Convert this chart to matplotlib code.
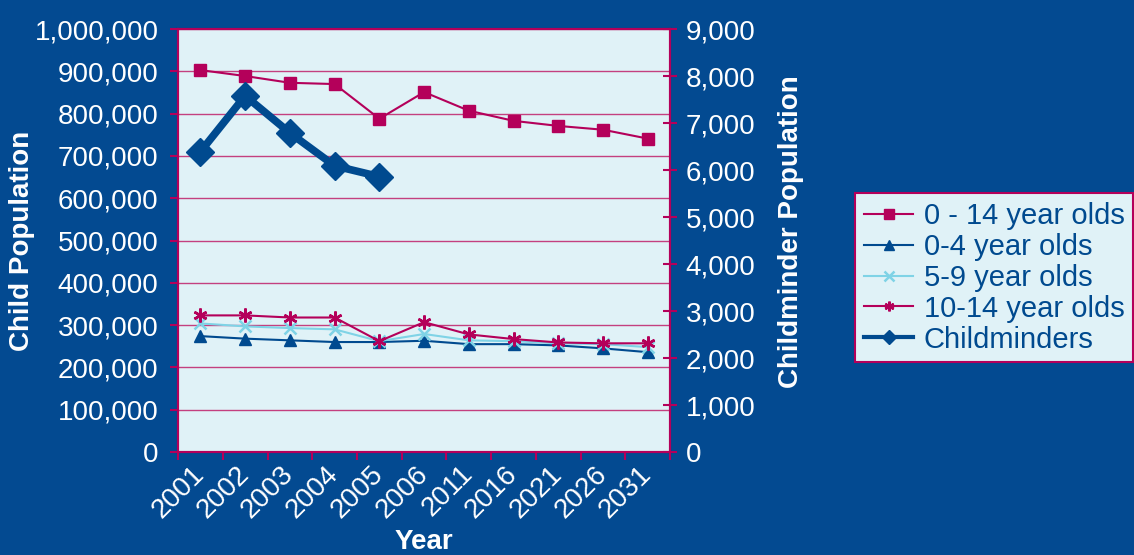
import numpy as np
import matplotlib
matplotlib.use("Agg")
import matplotlib.pyplot as plt
from matplotlib.ticker import FuncFormatter

# 数据
years = ["2001", "2002", "2003", "2004", "2005", "2006",
         "2011", "2016", "2021", "2026", "2031"]
age_0_14 = [903000, 889000, 873000, 870000, 788000, 851000,
            807000, 783000, 771000, 762000, 741000]
age_0_4 = [274000, 268000, 264000, 260000, 260000, 263000,
           255000, 255000, 252000, 245000, 236000]
age_5_9 = [304000, 297000, 293000, 290000, 262000, 279000,
           264000, 262000, 257000, 255000, 248000]
age_10_14 = [323000, 323000, 318000, 318000, 262000, 307000,
             278000, 267000, 259000, 257000, 257000]
childminders = [6390, 7580, 6790, 6090, 5860]

BG = "#034a91"
PLOT_BG = "#e0f2f7"
MAGENTA = "#b4005a"
BLUE = "#004a8f"
CYAN = "#7fd3e6"
GRID = "#c4407f"

plt.rcParams["font.family"] = ["Liberation Sans", "DejaVu Sans"]

fig = plt.figure(figsize=(11.34, 5.55), dpi=100, facecolor=BG)
ax = fig.add_axes([0.157, 0.1856, 0.434, 0.762])
ax.set_facecolor(PLOT_BG)
ax2 = ax.twinx()

x = np.arange(len(years))

l1, = ax.plot(x, age_0_14, color=MAGENTA, lw=1.5, marker="s", ms=8,
              label="0 - 14 year olds", zorder=3)
l2, = ax.plot(x, age_0_4, color=BLUE, lw=1.5, marker="^", ms=8,
              label="0-4 year olds", zorder=3)
l3, = ax.plot(x, age_5_9, color=CYAN, lw=1.5, marker="x", ms=8, mew=1.8,
              label="5-9 year olds", zorder=3)
l4, = ax.plot(x, age_10_14, color=MAGENTA, lw=1.5, marker=(6, 2, 0), ms=10,
              mew=1.8, label="10-14 year olds", zorder=3)
l5, = ax2.plot(x[:len(childminders)], childminders, color=BLUE, lw=5.5,
               marker="D", ms=14, label="Childminders", zorder=4)

ax.set_xlim(-0.5, len(years) - 0.5)
ax.set_ylim(0, 1000000)
ax2.set_ylim(0, 9000)
ax.set_yticks(np.arange(0, 1000001, 100000))
ax2.set_yticks(np.arange(0, 9001, 1000))
fmt = FuncFormatter(lambda v, p: f"{int(v):,}")
ax.yaxis.set_major_formatter(fmt)
ax2.yaxis.set_major_formatter(fmt)

ax.grid(axis="y", color=GRID, lw=1)
ax.set_axisbelow(True)

# 类别刻度在边界
ax.set_xticks(np.arange(-0.5, len(years), 1), minor=False)
ax.set_xticklabels([])
ax.set_xticks(x, minor=True)
ax.set_xticklabels(years, minor=True, rotation=45, ha="right", va="center",
                   rotation_mode="anchor", color="white", fontsize=20)
ax.tick_params(axis="x", which="minor", length=0, pad=13)
ax.tick_params(axis="x", which="major", length=6, color=MAGENTA, width=1.5)

ax.tick_params(axis="y", colors="white", labelsize=20, length=6, width=1.5,
               pad=8)
ax.tick_params(axis="y", color=MAGENTA)
ax2.tick_params(axis="y", colors="white", labelsize=20, length=10, width=1.5,
                direction="inout", pad=6)
ax2.tick_params(axis="y", color=MAGENTA)

for a in (ax, ax2):
    for s in ("top", "right", "bottom", "left"):
        a.spines[s].set_color(MAGENTA)
        a.spines[s].set_linewidth(1.5)

ax.set_ylabel("Child Population", color="white", fontsize=20,
              fontweight="bold", va="center")
ax.yaxis.set_label_coords(-0.317, 0.5)
ax2.set_ylabel("Childminder Population", color="white", fontsize=20,
               fontweight="bold", va="center")
ax2.yaxis.set_label_coords(1.246, 0.52)
ax.set_xlabel("Year", color="white", fontsize=20, fontweight="bold",
              labelpad=4)

leg = fig.legend(handles=[l1, l2, l3, l4, l5], loc="upper left",
                 bbox_to_anchor=(0.754, 0.652), frameon=True, fontsize=21,
                 handlelength=1.7, handletextpad=0.35, labelspacing=0.1,
                 borderpad=0.3, borderaxespad=0, framealpha=1,
                 fancybox=False)
leg.get_frame().set_facecolor(PLOT_BG)
leg.get_frame().set_edgecolor(MAGENTA)
leg.get_frame().set_linewidth(1.5)
for t in leg.get_texts():
    t.set_color(BLUE)
for h in leg.legend_handles:
    h.set_linewidth(1.5)
    h.set_markersize(7)
leg.legend_handles[4].set_linewidth(3)

fig.savefig("out.png", dpi=100, facecolor=BG)
